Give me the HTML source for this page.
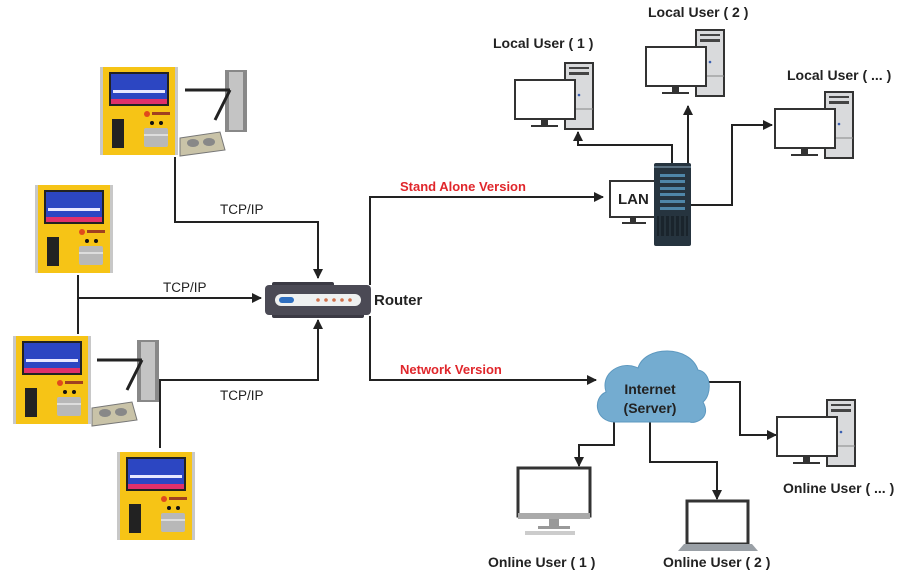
<!DOCTYPE html>
<html><head><meta charset="utf-8"><style>
html,body{margin:0;padding:0;background:#fff;}
svg{display:block;font-family:"Liberation Sans",sans-serif;}
.b{font-weight:bold;font-size:14px;fill:#222;}
.t{font-size:13.5px;fill:#222;}
.r{font-weight:bold;font-size:13px;fill:#e0262b;}
</style></head><body>
<svg width="908" height="578" viewBox="0 0 908 578" xmlns="http://www.w3.org/2000/svg">
<defs>
<marker id="a" markerWidth="10" markerHeight="10" refX="9" refY="5" orient="auto" markerUnits="userSpaceOnUse"><path d="M0,0 L10,5 L0,10 z" fill="#222"/></marker>
<g id="dev">
<rect x="0" y="0" width="78" height="88" fill="#c8c8c8"/>
<rect x="3" y="0" width="72" height="88" fill="#f6c416"/>
<rect x="9" y="5" width="60" height="34" fill="#222"/>
<rect x="11" y="7" width="56" height="30" fill="#2c46c2"/>
<rect x="11" y="32" width="56" height="5" fill="#e0306a"/>
<rect x="13" y="23" width="52" height="3" fill="#e8e8ff"/>
<circle cx="47" cy="47" r="3" fill="#e04a1c"/>
<rect x="52" y="45" width="18" height="3" fill="#a04020"/>
<rect x="12" y="52" width="12" height="29" fill="#222"/>
<circle cx="52" cy="56" r="2" fill="#111"/><circle cx="61" cy="56" r="2" fill="#111"/>
<rect x="44" y="61" width="24" height="19" rx="2" fill="#b8b8b8"/>
<rect x="44" y="67" width="24" height="2" fill="#ddd"/>
</g>
<g id="turn">
<rect x="40" y="0" width="22" height="62" fill="#888"/>
<rect x="44" y="2" width="14" height="58" fill="#c4c4c4"/>
<path d="M0,20 H45 M45,20 L30,50" stroke="#222" stroke-width="3" fill="none"/>
<path d="M-5,68 L35,62 L40,80 L-5,86 z" fill="#c9c3a8" stroke="#777"/>
<ellipse cx="8" cy="73" rx="6" ry="4" fill="#888"/><ellipse cx="24" cy="72" rx="6" ry="4" fill="#888"/>
</g>
<g id="pc">
<rect x="50" y="0" width="28" height="66" fill="#d9dadc" stroke="#333" stroke-width="2"/>
<rect x="54" y="4" width="20" height="2" fill="#444"/><rect x="54" y="9" width="20" height="3" fill="#444"/>
<line x1="50" y1="46" x2="78" y2="46" stroke="#888"/>
<circle cx="64" cy="32" r="1.3" fill="#3a5fb0"/>
<rect x="0" y="17" width="60" height="39" fill="#fff" stroke="#333" stroke-width="2"/>
<rect x="26" y="57" width="7" height="5" fill="#333"/><rect x="16" y="62" width="27" height="2" fill="#333"/>
</g>
</defs>

<use href="#dev" x="100" y="67"/>
<use href="#turn" x="185" y="70"/>
<use href="#dev" x="35" y="185"/>
<use href="#dev" x="13" y="336"/>
<use href="#turn" x="97" y="340"/>
<use href="#dev" x="117" y="452"/>

<g stroke="#222" stroke-width="2" fill="none">
<path d="M175,157 V222 H318 V278" marker-end="url(#a)"/>
<path d="M78,275 V334"/>
<path d="M78,298 H261" marker-end="url(#a)"/>
<path d="M160,448 V380 H318 V320" marker-end="url(#a)"/>
<path d="M370,285 V197 H603" marker-end="url(#a)"/>
<path d="M370,316 V380 H596" marker-end="url(#a)"/>
<path d="M672,165 V145 H578 V132" marker-end="url(#a)"/>
<path d="M688,165 V106" marker-end="url(#a)"/>
<path d="M691,205 H732 V125 H772" marker-end="url(#a)"/>
<path d="M703,382 H740 V435 H776" marker-end="url(#a)"/>
<path d="M614,422 V445 H579 V466" marker-end="url(#a)"/>
<path d="M650,422 V462 H717 V499" marker-end="url(#a)"/>
</g>
<text x="220" y="214" class="t">TCP/IP</text>
<text x="163" y="292" class="t">TCP/IP</text>
<text x="220" y="400" class="t">TCP/IP</text>

<rect x="272" y="282" width="62" height="6" rx="2" fill="#3b3a44"/>
<rect x="272" y="312" width="92" height="6" rx="2" fill="#3b3a44"/>
<rect x="265" y="285" width="106" height="30" rx="4" fill="#4b4a55"/>
<rect x="275" y="294" width="86" height="12" rx="6" fill="#eef0f0"/>
<rect x="279" y="297" width="15" height="6" rx="3" fill="#2f6fc0"/>
<g fill="#d0714c"><circle cx="318" cy="300" r="1.8"/><circle cx="326" cy="300" r="1.8"/><circle cx="334" cy="300" r="1.8"/><circle cx="342" cy="300" r="1.8"/><circle cx="350" cy="300" r="1.8"/></g>
<text x="374" y="305" class="b" style="font-size:15px">Router</text>

<text x="400" y="191" class="r">Stand Alone Version</text>
<text x="400" y="374" class="r">Network Version</text>

<rect x="610" y="181" width="52" height="36" fill="#fff" stroke="#333" stroke-width="2"/>
<text x="618" y="204" class="b" style="font-size:15px">LAN</text>
<rect x="630" y="218" width="6" height="5" fill="#333"/><rect x="622" y="222" width="24" height="2" fill="#333"/>
<rect x="654" y="163" width="37" height="83" rx="2" fill="#26343f"/>
<rect x="654" y="166" width="37" height="2" fill="#5a7080"/>
<g fill="#4f86a8"><rect x="660" y="174" width="25" height="3"/><rect x="660" y="180" width="25" height="3"/><rect x="660" y="187" width="25" height="3"/><rect x="660" y="193" width="25" height="3"/><rect x="660" y="200" width="25" height="3"/><rect x="660" y="207" width="25" height="3"/></g>
<rect x="657" y="216" width="31" height="20" fill="#1a242c"/>
<g stroke="#33424d"><line x1="660" y1="216" x2="660" y2="236"/><line x1="665" y1="216" x2="665" y2="236"/><line x1="670" y1="216" x2="670" y2="236"/><line x1="675" y1="216" x2="675" y2="236"/><line x1="680" y1="216" x2="680" y2="236"/><line x1="685" y1="216" x2="685" y2="236"/></g>

<use href="#pc" x="515" y="63"/>
<text x="493" y="48" class="b">Local User ( 1 )</text>
<use href="#pc" x="646" y="30"/>
<text x="648" y="17" class="b">Local User ( 2 )</text>
<use href="#pc" x="775" y="92"/>
<text x="787" y="80" class="b">Local User ( ... )</text>

<path d="M615,422 C595,422 592,398 606,392 C600,372 622,360 638,368 C645,345 690,345 698,370 C712,372 712,395 703,402 C712,418 695,424 690,422 Z" fill="#74acd0" stroke="#5d98bf"/>
<text x="650" y="394" class="b" text-anchor="middle">Internet</text>
<text x="650" y="413" class="b" text-anchor="middle">(Server)</text>

<use href="#pc" x="777" y="400"/>
<text x="783" y="493" class="b">Online User ( ... )</text>
<rect x="518" y="468" width="72" height="48" fill="#fff" stroke="#333" stroke-width="3"/>
<rect x="518" y="513" width="72" height="6" fill="#aaa"/>
<rect x="549" y="519" width="10" height="8" fill="#999"/>
<rect x="538" y="526" width="32" height="3" fill="#999"/>
<rect x="525" y="531" width="50" height="4" fill="#ccc"/>
<text x="488" y="567" class="b">Online User ( 1 )</text>
<rect x="687" y="501" width="61" height="43" fill="#fff" stroke="#333" stroke-width="3"/>
<path d="M684,544 H752 L758,551 H678 Z" fill="#9aa0a6"/>
<text x="663" y="567" class="b">Online User ( 2 )</text>
</svg>
</body></html>
